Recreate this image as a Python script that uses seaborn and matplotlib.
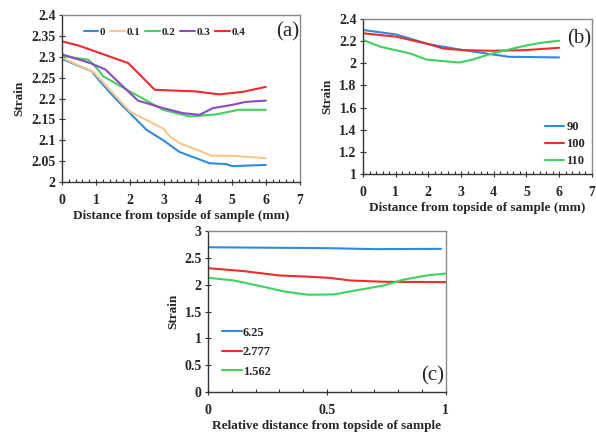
import numpy as np
import pandas as pd
import matplotlib.pyplot as plt
from matplotlib.ticker import MultipleLocator
import seaborn as sns

# panel (a): strain vs distance, one series per parameter value
a_x_0 = [0, 0.88, 1.12, 1.61, 2.0, 2.49, 2.98, 3.46, 4.05, 4.34, 4.83, 5.02, 6.0]
a_y_0 = [2.295, 2.265, 2.241, 2.197, 2.165, 2.125, 2.100, 2.072, 2.054, 2.045, 2.043, 2.038, 2.041]
a_x_01 = [0, 0.93, 2.0, 2.98, 3.18, 3.46, 4.05, 4.39, 5.02, 6.0]
a_y_01 = [2.298, 2.263, 2.169, 2.128, 2.109, 2.093, 2.075, 2.063, 2.063, 2.057]
a_x_02 = [0, 0.78, 1.02, 1.22, 2.0, 2.98, 3.76, 4.54, 5.2, 6.0]
a_y_02 = [2.302, 2.293, 2.273, 2.253, 2.217, 2.173, 2.157, 2.162, 2.173, 2.173]
a_x_03 = [0, 0.83, 1.27, 2.0, 2.24, 2.98, 3.56, 4.05, 4.44, 5.02, 5.41, 6.0]
a_y_03 = [2.306, 2.285, 2.270, 2.213, 2.195, 2.177, 2.165, 2.161, 2.177, 2.185, 2.192, 2.195]
a_x_04 = [0, 0.49, 1.95, 2.73, 3.95, 4.63, 5.32, 6.0]
a_y_04 = [2.337, 2.327, 2.285, 2.221, 2.217, 2.210, 2.216, 2.228]
a_labels = ["0", "0.1", "0.2", "0.3", "0.4"]

# panel (b)
b_x_90 = [0, 1.0, 2.04, 2.95, 3.96, 4.46, 6.0]
b_y_90 = [2.30, 2.26, 2.17, 2.124, 2.079, 2.058, 2.052]
b_x_100 = [0, 1.0, 2.04, 2.45, 3.05, 3.96, 4.96, 6.0]
b_y_100 = [2.27, 2.24, 2.17, 2.133, 2.118, 2.112, 2.118, 2.139]
b_x_110 = [0, 0.53, 1.44, 1.94, 2.95, 3.35, 3.96, 4.96, 5.47, 6.0]
b_y_110 = [2.21, 2.149, 2.088, 2.033, 2.006, 2.033, 2.088, 2.158, 2.185, 2.203]
b_labels = ["90", "100", "110"]

# panel (c)
c_x_625 = [0, 0.5, 0.7, 0.98]
c_y_625 = [2.70, 2.683, 2.665, 2.67]
c_x_2777 = [0, 0.15, 0.3, 0.4, 0.51, 0.6, 0.74, 1.0]
c_y_2777 = [2.31, 2.255, 2.174, 2.155, 2.13, 2.08, 2.056, 2.05]
c_x_1562 = [0, 0.11, 0.22, 0.32, 0.42, 0.53, 0.62, 0.74, 0.82, 0.92, 1.0]
c_y_1562 = [2.13, 2.08, 1.975, 1.876, 1.814, 1.82, 1.894, 1.988, 2.093, 2.174, 2.21]
c_labels = ["6.25", "2.777", "1.562"]


def long_form(xs, ys, labels):
    frames = []
    for x, y, lab in zip(xs, ys, labels):
        frames.append(pd.DataFrame({"x": x, "y": y, "series": lab}))
    return pd.concat(frames, ignore_index=True)


df_a = long_form([a_x_0, a_x_01, a_x_02, a_x_03, a_x_04],
                 [a_y_0, a_y_01, a_y_02, a_y_03, a_y_04], a_labels)
df_b = long_form([b_x_90, b_x_100, b_x_110], [b_y_90, b_y_100, b_y_110], b_labels)
df_c = long_form([c_x_625, c_x_2777, c_x_1562], [c_y_625, c_y_2777, c_y_1562], c_labels)

blue = "#2f8be0"
orange = "#fbc58c"
green = "#3dd35c"
purple = "#8f47c6"
red = "#f02b2b"

sns.set_style("ticks")
plt.rcParams["font.family"] = ["Liberation Serif", "DejaVu Serif"]
plt.rcParams["font.weight"] = "bold"

fig = plt.figure(figsize=(5.96, 4.37), dpi=100)
ax_a = fig.add_axes([0.104, 0.5835, 0.399, 0.382])
ax_b = fig.add_axes([0.609, 0.6018, 0.384, 0.355])
ax_c = fig.add_axes([0.349, 0.103, 0.399, 0.368])

sns.lineplot(data=df_a, x="x", y="y", hue="series", sort=False, estimator=None,
             palette=[blue, orange, green, purple, red], linewidth=1.5, ax=ax_a)
sns.lineplot(data=df_b, x="x", y="y", hue="series", sort=False, estimator=None,
             palette=[blue, red, green], linewidth=1.5, ax=ax_b)
sns.lineplot(data=df_c, x="x", y="y", hue="series", sort=False, estimator=None,
             palette=[blue, red, green], linewidth=1.5, ax=ax_c)


def trim(v, p):
    return f"{v:.2f}".rstrip("0").rstrip(".")


def style_axes(ax, xlim, ylim, xmaj, xmin, ymaj, xlabel, tag, tagpos):
    ax.set_xlim(*xlim)
    ax.set_ylim(*ylim)
    ax.xaxis.set_major_locator(MultipleLocator(xmaj))
    ax.xaxis.set_minor_locator(MultipleLocator(xmin))
    ax.yaxis.set_major_locator(MultipleLocator(ymaj))
    ax.xaxis.set_major_formatter(plt.FuncFormatter(trim))
    ax.yaxis.set_major_formatter(plt.FuncFormatter(trim))
    for s in ax.spines.values():
        s.set_visible(True)
        s.set_color("#8a8a8a")
        s.set_linewidth(1.0)
    ax.spines["left"].set_color("#333333")
    ax.spines["bottom"].set_color("#333333")
    ax.tick_params(axis="both", which="major", direction="inout", length=5,
                   width=0.8, color="#333333", labelsize=10, pad=2)
    ax.tick_params(axis="x", which="minor", direction="in", length=2.5,
                   width=0.8, color="#333333")
    ax.tick_params(axis="x", which="major", pad=6)
    ax.set_xlabel(xlabel, fontsize=9.5, fontweight="bold", labelpad=2)
    ax.set_ylabel("Strain", fontsize=9.5, fontweight="bold", labelpad=4)
    ax.text(tagpos[0], tagpos[1], tag, transform=ax.transAxes, fontsize=15,
            fontweight="normal", ha="center", va="center")


style_axes(ax_a, (0, 7), (2, 2.4), 1, 0.2, 0.05,
           "Distance from topside of sample (mm)", "(a)", (0.95, 0.9))
style_axes(ax_b, (0, 7), (1, 2.4), 1, 0.2, 0.2,
           "Distance from topside of sample (mm)", "(b)", (0.945, 0.87))
style_axes(ax_c, (0, 1), (0, 3), 0.5, 0.1, 0.5,
           "Relative distance from topside of sample", "(c)", (0.945, 0.1))

ax_a.legend(ncol=5, loc="upper left", bbox_to_anchor=(0.05, 0.99), frameon=False,
            handlelength=1.3, handletextpad=0.15, columnspacing=0.45,
            prop={"weight": "bold", "size": 8})
ax_b.legend(loc="lower right", bbox_to_anchor=(1.02, -0.03), frameon=False,
            handlelength=1.5, handletextpad=0.2, labelspacing=0.4,
            prop={"weight": "bold", "size": 9})
ax_c.legend(loc="lower left", bbox_to_anchor=(0.01, 0.02), frameon=False,
            handlelength=1.6, handletextpad=0.1, labelspacing=0.6,
            prop={"weight": "bold", "size": 9})

fig.savefig("out.png", dpi=100)
